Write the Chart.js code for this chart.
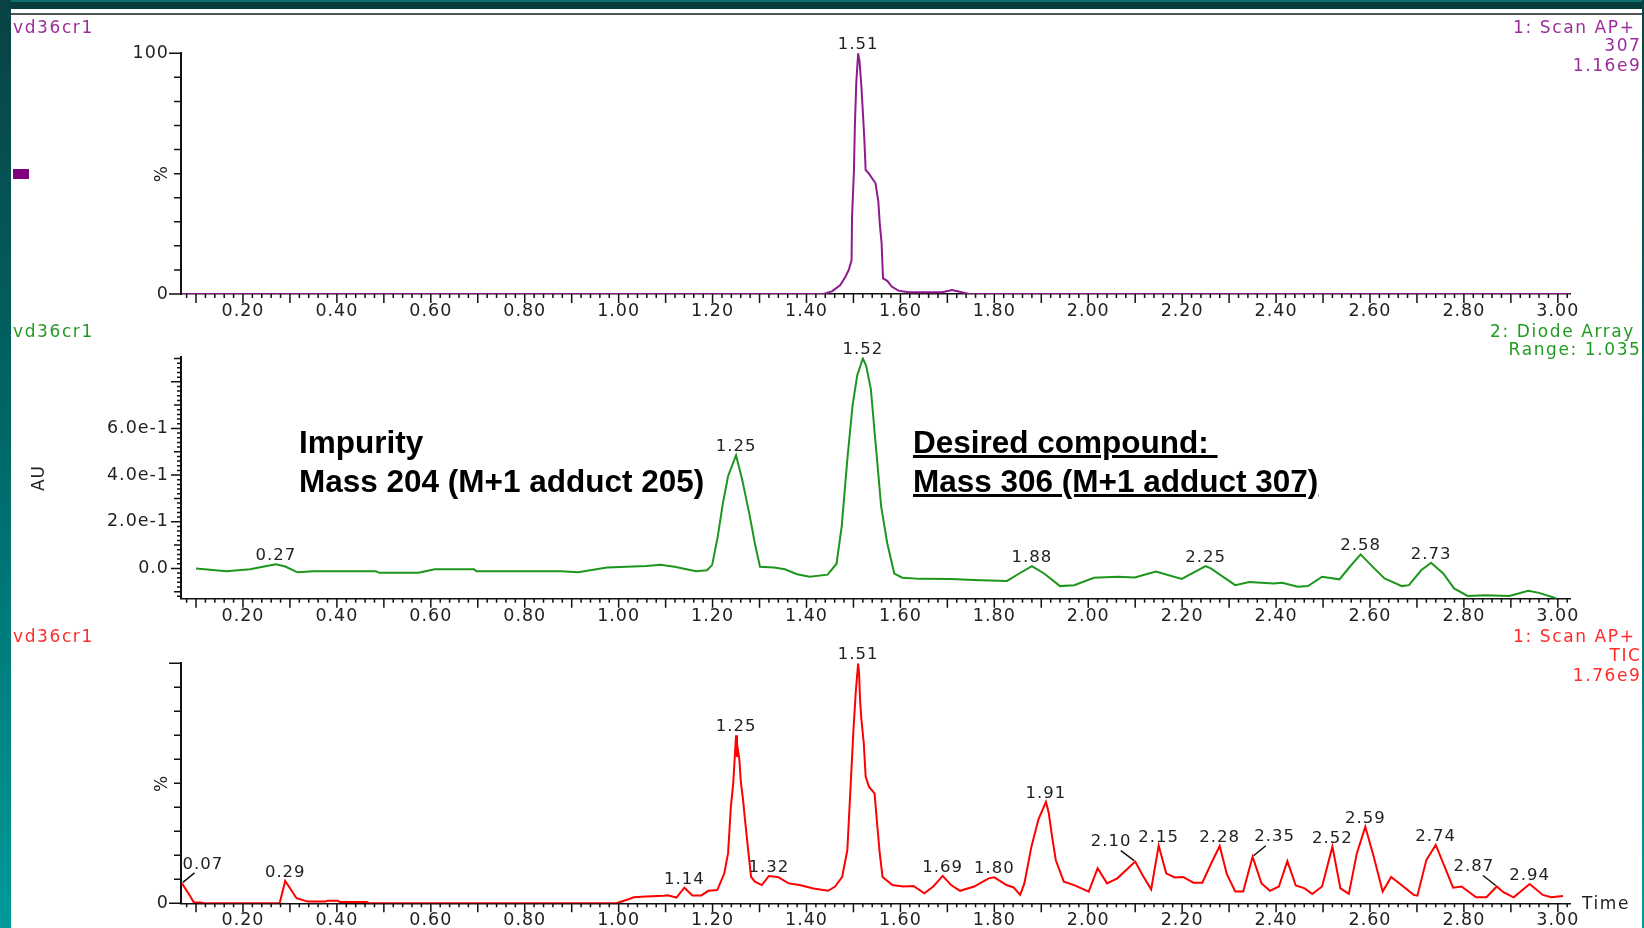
<!DOCTYPE html>
<html lang="en">
  <head>
    <meta charset="UTF-8" />
    <meta name="viewport" content="width=device-width, initial-scale=1.0" />
    <title>vd36cr1 LC-MS</title>
    <script src="https://cdn.jsdelivr.net/npm/chart.js"></script>
    <style>
      html, body { margin: 0; padding: 0; }
      body {
        position: relative;
        width: 1644px;
        height: 928px;
        overflow: hidden;
        background: #fff;
        font-family: "DejaVu Sans", sans-serif;
      }
      .bar-left, .bar-right {
        position: absolute;
        top: 0;
        height: 928px;
        background: linear-gradient(#0a4242, #006a6a 50%, #009a9a);
      }
      .bar-left { left: 0; width: 11px; }
      .bar-right { right: 0; width: 2px; }
      .bar-top {
        position: absolute;
        left: 0;
        top: 0;
        width: 1644px;
        height: 7px;
        background: #073d3d;
        border-top: 2px solid #0f7070;
      }
      .rule { position: absolute; left: 11px; top: 13px; width: 1631px; height: 2px; background: #555; }
      canvas { position: absolute; left: 0; }
      .lbl {
        position: absolute;
        font-size: 17px;
        line-height: 20px;
        letter-spacing: 1.6px;
        white-space: nowrap;
      }
      .ms { color: #9c2c9c; }
      .dad { color: #239a23; }
      .tic { color: #ff2a2a; }
      .marker { position: absolute; left: 13px; top: 169px; width: 16px; height: 10px; background: #800080; }
      .note {
        position: absolute;
        font-family: "Liberation Sans", Arial, sans-serif;
        font-weight: bold;
        font-size: 31.5px;
        line-height: 38.5px;
        color: #000;
      }
      .note span { display: block; white-space: pre; }
      .note.under span {
        text-decoration: underline;
        text-decoration-thickness: 3px;
        text-underline-offset: 2px;
      }
    </style>
  </head>
  <body>
    <div class="bar-top"></div>
    <div class="bar-left"></div>
    <div class="bar-right"></div>
    <div class="rule"></div>
    <div class="marker"></div>

    <canvas id="msChart" width="1644" height="340" style="top:0"></canvas>
    <canvas id="dadChart" width="1644" height="340" style="top:300px"></canvas>
    <canvas id="ticChart" width="1644" height="360" style="top:600px"></canvas>

    <!-- trace headers -->
    <div class="lbl ms" style="left:13px; top:16.5px">vd36cr1</div>
    <div class="lbl ms" style="right:8.5px; top:16.5px">1: Scan AP+</div>
    <div class="lbl ms" style="right:2.5px; top:34.5px">307</div>
    <div class="lbl ms" style="right:2.5px; top:54.5px">1.16e9</div>

    <div class="lbl dad" style="left:13px; top:320.5px">vd36cr1</div>
    <div class="lbl dad" style="right:9px; top:320.5px">2: Diode Array</div>
    <div class="lbl dad" style="right:2.5px; top:338.5px">Range: 1.035</div>

    <div class="lbl tic" style="left:13px; top:625.5px">vd36cr1</div>
    <div class="lbl tic" style="right:8.5px; top:625.5px">1: Scan AP+</div>
    <div class="lbl tic" style="right:2.5px; top:644.5px">TIC</div>
    <div class="lbl tic" style="right:2.5px; top:664.5px">1.76e9</div>

    <div class="lbl" style="left:1582px; top:893px; color:#222">Time</div>

    <div class="note" style="left:299px; top:423px">
      <span>Impurity</span>
      <span>Mass 204 (M+1 adduct 205)</span>
    </div>
    <div class="note under" style="left:913px; top:423px">
      <span>Desired compound: </span>
      <span>Mass 306 (M+1 adduct 307)</span>
    </div>

    <script>
      // retention time axis (min)
      const tMin = 0.068;
      const tMax = 3.027;
      const timeTicks = [0.2, 0.4, 0.6, 0.8, 1.0, 1.2, 1.4, 1.6, 1.8, 2.0, 2.2, 2.4, 2.6, 2.8, 3.0];

      // 1: Scan AP+ 307 (extracted ion, % of 1.16e9)
      const msTime = [0.07, 1.437, 1.455, 1.472, 1.483, 1.49, 1.496, 1.497, 1.501, 1.503,
        1.506, 1.51, 1.513, 1.517, 1.52, 1.523, 1.526, 1.533, 1.54, 1.547,
        1.553, 1.556, 1.56, 1.563, 1.572, 1.582, 1.596, 1.617, 1.689, 1.71,
        1.724, 1.746, 3.027];
      const msInt = [0, 0, 1.2, 3.7, 7.2, 10, 14, 32, 51, 69.5,
        87.5, 100, 96.5, 86, 75.7, 65, 51.5, 50, 48, 46,
        38.4, 29.4, 21, 6.5, 5.5, 3, 1.4, 0.7, 0.7, 1.7,
        1, 0, 0];
      const msPeaks = [1.51];
      const msTicks = [0, 100];

      // 2: Diode Array (AU)
      const dadTime = [0.1, 0.165, 0.215, 0.245, 0.27, 0.29, 0.316, 0.35, 0.483, 0.49,
        0.574, 0.608, 0.692, 0.697, 0.877, 0.914, 0.975, 1.059, 1.089, 1.119,
        1.165, 1.188, 1.199, 1.211, 1.222, 1.233, 1.25, 1.263, 1.278, 1.29,
        1.301, 1.331, 1.354, 1.38, 1.407, 1.445, 1.464, 1.475, 1.487, 1.498,
        1.508, 1.52, 1.527, 1.537, 1.547, 1.559, 1.572, 1.587, 1.604, 1.642,
        1.709, 1.755, 1.827, 1.853, 1.88, 1.906, 1.94, 1.97, 2.012, 2.063,
        2.099, 2.144, 2.199, 2.25, 2.261, 2.313, 2.343, 2.395, 2.413, 2.446,
        2.468, 2.498, 2.535, 2.557, 2.58, 2.609, 2.631, 2.668, 2.683, 2.709,
        2.73, 2.756, 2.779, 2.808, 2.845, 2.897, 2.937, 2.96, 2.996];
      const dadAbs = [0.0, -0.012, -0.004, 0.008, 0.018, 0.008, -0.017, -0.012, -0.012, -0.019,
        -0.019, -0.004, -0.004, -0.012, -0.012, -0.017, 0.004, 0.01, 0.016, 0.007,
        -0.012, -0.008, 0.014, 0.136, 0.28, 0.395, 0.485, 0.381, 0.237, 0.108,
        0.007, 0.004, -0.004, -0.025, -0.036, -0.027, 0.02, 0.18, 0.467, 0.697,
        0.827, 0.9, 0.87, 0.77, 0.54, 0.266, 0.108, -0.022, -0.04, -0.045,
        -0.046, -0.05, -0.054, -0.022, 0.01, -0.022, -0.076, -0.072, -0.04, -0.036,
        -0.039, -0.014, -0.045, 0.01, 0.0, -0.072, -0.058, -0.065, -0.062, -0.079,
        -0.076, -0.036, -0.047, 0.007, 0.06, 0.0, -0.043, -0.076, -0.072, -0.008,
        0.024, -0.022, -0.086, -0.118, -0.115, -0.118, -0.096, -0.105, -0.128];
      const dadPeaks = [0.27, 1.25, 1.52, 1.88, 2.25, 2.58, 2.73];
      const dadTicks = [0, 0.2, 0.4, 0.6];

      // 1: Scan AP+ TIC (% of 1.76e9)
      const ticTime = [0.07, 0.088, 0.095, 0.11, 0.118, 0.278, 0.29, 0.314, 0.338, 0.376,
        0.38, 0.402, 0.406, 0.464, 0.468, 0.995, 1.021, 1.032, 1.058, 1.096,
        1.104, 1.123, 1.14, 1.157, 1.176, 1.191, 1.21, 1.225, 1.233, 1.239,
        1.244, 1.25, 1.252, 1.254, 1.257, 1.26, 1.265, 1.269, 1.275, 1.282,
        1.29, 1.305, 1.32, 1.339, 1.362, 1.385, 1.415, 1.446, 1.461, 1.476,
        1.487, 1.495, 1.5, 1.505, 1.51, 1.512, 1.514, 1.517, 1.522, 1.526,
        1.533, 1.545, 1.551, 1.556, 1.562, 1.583, 1.606, 1.628, 1.651, 1.67,
        1.69, 1.708, 1.727, 1.757, 1.788, 1.8, 1.826, 1.841, 1.855, 1.864,
        1.879, 1.894, 1.91, 1.916, 1.923, 1.931, 1.948, 1.97, 2.001, 2.02,
        2.04, 2.062, 2.1, 2.118, 2.134, 2.15, 2.166, 2.184, 2.202, 2.224,
        2.243, 2.262, 2.28, 2.295, 2.313, 2.33, 2.35, 2.369, 2.387, 2.406,
        2.424, 2.442, 2.461, 2.477, 2.498, 2.52, 2.537, 2.555, 2.572, 2.59,
        2.608, 2.627, 2.645, 2.667, 2.693, 2.701, 2.72, 2.74, 2.758, 2.777,
        2.795, 2.826, 2.848, 2.87, 2.884, 2.906, 2.94, 2.968, 2.986, 3.011];
      const ticInt = [8.3, 2.8, 0.4, 0.3, 0, 0, 9.3, 2.1, 0.7, 0.7,
        1.1, 1.1, 0.5, 0.5, 0, 0, 1.7, 2.5, 2.8, 3.1,
        3.3, 2.4, 6.5, 3.3, 3.3, 5.2, 5.5, 12.5, 20.8, 40.3,
        50, 70, 61, 64, 60, 51, 43, 35, 23.6, 11,
        9, 7.6, 11.4, 11, 8.3, 7.6, 6.2, 5.2, 7, 11,
        22.2, 52.8, 72.2, 88.2, 100, 96, 85, 76.4, 66.7, 52.8,
        48.6, 45.8, 31.9, 20.8, 11, 7.6, 7, 7.2, 4.2, 7,
        11.4, 7.6, 5.2, 7, 10.4, 10.8, 7.6, 6.6, 3.5, 8.3,
        23.6, 35, 42.3, 37.5, 27.8, 17.9, 9, 7.6, 4.9, 14.6,
        8.3, 10.4, 17.4, 11, 5.8, 24, 12.5, 10.8, 11, 8.6,
        8.6, 16.7, 23.9, 12.2, 4.9, 4.9, 19.4, 8.3, 5.2, 7,
        17.6, 7.4, 6.2, 3.9, 7, 23.6, 6.2, 3.9, 20.8, 31.9,
        19.4, 4.9, 11, 7.6, 3.5, 3.2, 18, 24.3, 15.7, 6.5,
        7, 2.5, 2.5, 7, 4.6, 2.5, 8, 3.5, 2.5, 3];
      const ticPeaks = [0.07, 0.29, 1.14, 1.25, 1.32, 1.51, 1.69, 1.8, 1.91, 2.1,
        2.15, 2.28, 2.35, 2.52, 2.59, 2.74, 2.87, 2.94];
      const ticTicks = [0];

      // labels pushed off their peak get a short leader line (px offsets)
      const ticLeaders = { "0.07": [21, -19], "2.10": [-24, -20], "2.35": [22, -20], "2.87": [-23, -20] };

      const FONT = '"DejaVu Sans", sans-serif';

      function series(times, vals) {
        return times.map((t, i) => ({ x: t, y: vals[i] }));
      }

      // minor/major tick marks on both axes (drawn by hand for the mixed lengths)
      function tickMarks(o) {
        return {
          id: "tickMarks",
          beforeDraw(chart) {
            chart.ctx.letterSpacing = "1px";
          },
          afterDraw(chart) {
            const { ctx, chartArea: a, scales: { x, y } } = chart;
            ctx.save();
            ctx.strokeStyle = "#111";
            ctx.lineWidth = 1.5;
            ctx.beginPath();
            for (let i = Math.ceil(tMin / 0.02); i * 0.02 <= tMax; i++) {
              const px = x.getPixelForValue(i * 0.02);
              ctx.moveTo(px, a.bottom);
              ctx.lineTo(px, a.bottom + (i % 5 === 0 ? 9 : 4));
            }
            for (let j = Math.ceil(o.yMin / o.yStep - 1e-6); j * o.yStep <= o.yMax + 1e-6; j++) {
              const py = y.getPixelForValue(j * o.yStep);
              ctx.moveTo(a.left, py);
              ctx.lineTo(a.left - o.yTickLen(j), py);
            }
            ctx.stroke();
            ctx.restore();
          }
        };
      }

      // retention time printed above each picked peak
      function peakLabels(o) {
        return {
          id: "peakLabels",
          afterDatasetsDraw(chart) {
            const { ctx, scales: { x, y } } = chart;
            const pts = chart.data.datasets[0].data;
            ctx.save();
            ctx.font = "16.5px " + FONT;
            ctx.letterSpacing = "1px";
            ctx.fillStyle = "#222";
            ctx.strokeStyle = "#111";
            ctx.lineWidth = 1.5;
            ctx.textAlign = "center";
            o.peaks.forEach(t => {
              const p = pts.reduce((a, b) => (Math.abs(b.x - t) < Math.abs(a.x - t) ? b : a));
              const px = x.getPixelForValue(p.x);
              const py = y.getPixelForValue(p.y);
              const text = t.toFixed(2);
              const off = o.leaders && o.leaders[text];
              if (off) {
                ctx.beginPath();
                ctx.moveTo(px + Math.sign(off[0]), py - 1);
                ctx.lineTo(px + off[0] * 0.6, py + off[1] * 0.55);
                ctx.stroke();
                ctx.textBaseline = "middle";
                ctx.fillText(text, px + off[0], py + off[1]);
              } else {
                ctx.textBaseline = "alphabetic";
                ctx.fillText(text, px, py - 4);
              }
            });
            ctx.restore();
          }
        };
      }

      function buildChart(id, o) {
        return new Chart(document.getElementById(id), {
          type: "line",
          data: {
            datasets: [{
              data: series(o.time, o.vals),
              borderColor: o.color,
              borderWidth: 2,
              pointRadius: 0,
              tension: 0,
              fill: false
            }]
          },
          options: {
            responsive: false,
            animation: false,
            devicePixelRatio: 1,
            layout: { padding: { top: o.top, right: 73.5, bottom: 0, left: 0 } },
            plugins: { legend: { display: false }, tooltip: { enabled: false } },
            scales: {
              x: {
                type: "linear",
                min: tMin,
                max: tMax,
                grid: { display: false, drawTicks: false },
                border: { color: "#111", width: 1.5 },
                afterFit: s => { s.height = o.xHeight; },
                afterBuildTicks: s => { s.ticks = timeTicks.map(v => ({ value: v })); },
                ticks: {
                  padding: 7,
                  color: "#222",
                  font: { family: FONT, size: 17.5 },
                  maxRotation: 0,
                  autoSkip: false,
                  callback: v => v.toFixed(2)
                }
              },
              y: {
                min: o.yMin,
                max: o.yMax,
                grid: { display: false, drawTicks: false },
                border: { color: "#111", width: 2 },
                afterFit: s => { s.width = 181; },
                afterBuildTicks: s => { s.ticks = o.yTicks.map(v => ({ value: v })); },
                ticks: {
                  padding: 12,
                  color: "#222",
                  font: { family: FONT, size: 17.5 },
                  callback: o.yFmt
                },
                title: {
                  display: true,
                  text: o.yTitle,
                  color: "#222",
                  font: { family: FONT, size: 17 },
                  padding: { top: o.titlePad, bottom: 0 }
                }
              }
            }
          },
          plugins: [tickMarks(o), peakLabels(o)]
        });
      }

      const pctLen = j => (j === 0 || j === 10 ? 12 : 7);

      buildChart("msChart", {
        time: msTime, vals: msInt, color: "#8e1a8e", peaks: msPeaks,
        top: 53.3, xHeight: 46,
        yMin: 0, yMax: 100, yStep: 10, yTickLen: pctLen,
        yTicks: msTicks, yFmt: v => String(v), yTitle: "%", titlePad: 152
      });

      buildChart("dadChart", {
        time: dadTime, vals: dadAbs, color: "#1c961c", peaks: dadPeaks,
        top: 57.3, xHeight: 41.3,
        yMin: -0.13, yMax: 0.905, yStep: 0.02,
        yTickLen: j => (j % 10 === 0 ? 10 : j % 5 === 0 ? 7 : 4),
        yTicks: dadTicks,
        yFmt: v => (v === 0 ? "0.0" : (v * 10).toFixed(1) + "e-1"),
        yTitle: "AU", titlePad: 29
      });

      buildChart("ticChart", {
        time: ticTime, vals: ticInt, color: "#ff0000", peaks: ticPeaks, leaders: ticLeaders,
        top: 63.3, xHeight: 56.7,
        yMin: 0, yMax: 100, yStep: 10, yTickLen: pctLen,
        yTicks: ticTicks, yFmt: v => String(v), yTitle: "%", titlePad: 152
      });
    </script>
  </body>
</html>
